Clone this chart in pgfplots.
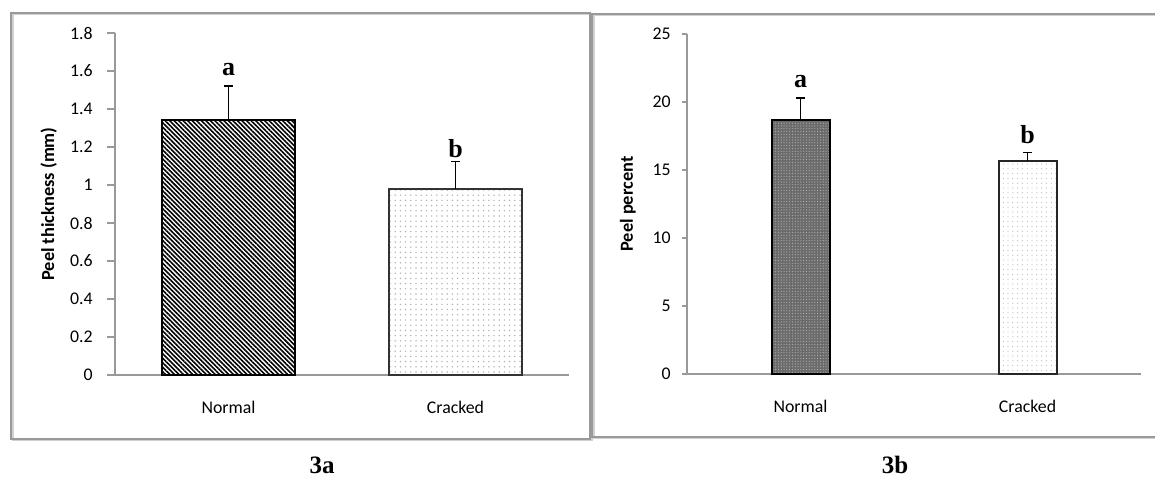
\documentclass[border=0pt]{standalone}
\usepackage{pgfplots}
\pgfplotsset{compat=1.18}
\usepackage{fontspec}
\setmainfont{Carlito}
\newfontfamily\timesfont{Liberation Serif}
\usetikzlibrary{patterns.meta}
\tikzset{letter/.style={font=\timesfont\bfseries\fontsize{13}{14}\selectfont}}
\pgfplotsset{
  panel/.style={
    scale only axis,
    anchor=south west,
    xmin=0, xmax=2,
    ymin=0,
    width=227pt,
    axis x line=bottom, axis y line=left,
    axis line style={-, black!40, line width=0.8pt},
    every inner x axis line/.append style={-},
    every outer x axis line/.append style={-},
    every inner y axis line/.append style={-},
    every outer y axis line/.append style={-},
    xtick={0.5,1.5},
    xticklabels={Normal,Cracked},
    x tick style={draw=none},
    y tick style={black!40, line width=0.8pt},
    tick align=outside,
    ytick pos=left,
    ticklabel style={font=\fontsize{8.9}{10}\selectfont},
    /pgf/number format/assume math mode=true,
    ylabel style={font=\bfseries\fontsize{9.2}{11}\selectfont, anchor=center},
    clip=false,
  },
  ebar/.style={error bars/.cd, y dir=plus, y explicit,
    error bar style={black, line width=0.7pt},
    error mark options={rotate=90, black, line width=0.7pt, mark size=2.2pt}},
}
\begin{document}
\begin{tikzpicture}[x=0.5pt,y=0.5pt]
\useasboundingbox (0,0) rectangle (1155,476);
% panel frames (with a light shadow line)
\draw[black!18, line width=1pt] (12.5,476-14.5) rectangle (591.5,476-440.5);
\draw[black!40, line width=0.9pt] (11,476-13) rectangle (590,476-439);
\draw[black!18, line width=1pt] (593.5,476-15.5) rectangle (1166,476-438.5);
\draw[black!40, line width=0.9pt] (592,476-14) rectangle (1165,476-437);

% ---------- Panel 3a ----------
\begin{axis}[panel,
  at={(57.5pt,50.5pt)},
  height=171pt,
  ymax=1.8,
  ytick={0,0.2,...,1.8},
  major tick length=4pt,
  xticklabel style={yshift=-5.5pt},
  yticklabel style={xshift=-3.6pt, /pgf/number format/fixed, /pgf/number format/precision=1},
  ylabel={Peel thickness (mm)},
  ylabel style={at={(axis description cs:-0.146,0.5)}},
]
\addplot[ybar, bar width=66.5pt, bar shift=0pt, draw=black, line width=1pt,
  fill=white, postaction={pattern={Lines[angle=-45,distance=1.6pt,line width=0.8pt]}, pattern color=black},
  ebar]
  coordinates {(0.5,1.34) +- (0,0.18)};
\addplot[ybar, bar width=66.5pt, bar shift=0pt, draw=black!80, line width=1pt,
  fill=white, postaction={pattern={Dots[distance=2.6pt,radius=0.4pt]}, pattern color=black!30},
  ebar]
  coordinates {(1.5,0.98) +- (0,0.145)};
\node[letter] at (axis cs:0.5,1.61) {a};
\node[letter] at (axis cs:1.5,1.19) {b};
\end{axis}

% ---------- Panel 3b ----------
\begin{axis}[panel,
  at={(343.5pt,51pt)},
  height=170pt,
  ymax=25,
  ytick={0,5,...,25},
  major tick length=2.5pt,
  xticklabel style={yshift=-7pt},
  yticklabel style={xshift=-2.1pt},
  ylabel={Peel percent},
  ylabel style={at={(axis description cs:-0.13,0.5)}},
]
\addplot[ybar, bar width=29pt, bar shift=0pt, draw=black, line width=1pt,
  fill=black!58, postaction={pattern={Dots[distance=1.4pt,radius=0.3pt]}, pattern color=white!70!black},
  ebar]
  coordinates {(0.5,18.7) +- (0,1.6)};
\addplot[ybar, bar width=29pt, bar shift=0pt, draw=black!85, line width=1pt,
  fill=white, postaction={pattern={Dots[distance=2.4pt,radius=0.35pt]}, pattern color=black!22},
  ebar]
  coordinates {(1.5,15.65) +- (0,0.62)};
\node[letter] at (axis cs:0.5,21.5) {a};
\node[letter] at (axis cs:1.5,17.57) {b};
\end{axis}

% panel captions
\node[font=\timesfont\bfseries\fontsize{12.5}{14}\selectfont, anchor=base, inner sep=0pt] at (322,476-473) {3a};
\node[font=\timesfont\bfseries\fontsize{12.5}{14}\selectfont, anchor=base, inner sep=0pt] at (895,476-473) {3b};
\end{tikzpicture}
\end{document}
